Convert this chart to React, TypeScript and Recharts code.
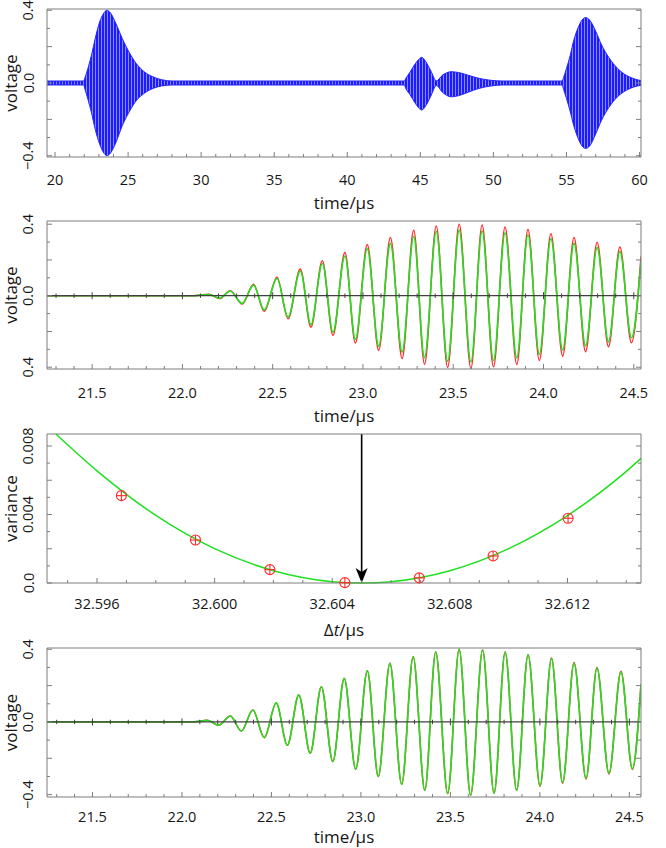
import React from 'react';
import { ComposedChart, Line, Area, Scatter, XAxis, YAxis, ReferenceLine } from 'recharts';

const FONT = '"Open Sans", "Noto Sans", sans-serif';
const FRAME = '#7d7d7d';
const AXIS0 = '#404040';
const INK = '#161616';
const BLUE = '#2323ff';
const RED = '#ff2b2b';
const GREEN = '#1fe01f';

const W = 666;
const H = 212;

// panel 1 - whole record, envelope of the densely sampled burst train
const recTime = [19.45, 21.95, 22.05, 22.25, 22.5, 22.75, 23.05, 23.3, 23.55, 23.8, 24.15, 24.6, 25.1, 25.55, 26.1, 26.7, 27.3, 28.0,
  43.9, 44.0, 44.3, 44.6, 44.9, 45.1, 45.35, 45.7, 46.1, 46.5, 46.8, 47.1, 47.6, 48.3, 49.0, 49.8, 50.6,
  54.7, 54.8, 55.0, 55.25, 55.5, 55.8, 56.05, 56.3, 56.6, 57.0, 57.4, 57.9, 58.5, 59.1, 59.6, 60.1];
const recHigh = [0.011, 0.011, 0.03, 0.08, 0.155, 0.245, 0.335, 0.38, 0.4, 0.385, 0.33, 0.245, 0.165, 0.108, 0.062, 0.034, 0.018, 0.011,
  0.011, 0.025, 0.06, 0.1, 0.13, 0.141, 0.12, 0.07, 0.012, 0.042, 0.056, 0.062, 0.058, 0.042, 0.026, 0.015, 0.011,
  0.011, 0.03, 0.08, 0.15, 0.235, 0.305, 0.345, 0.36, 0.345, 0.285, 0.21, 0.14, 0.08, 0.042, 0.024, 0.013];
const recLow = [-0.011, -0.011, -0.035, -0.09, -0.165, -0.255, -0.335, -0.38, -0.4, -0.385, -0.33, -0.235, -0.155, -0.098, -0.057, -0.03, -0.016, -0.011,
  -0.011, -0.03, -0.065, -0.105, -0.138, -0.149, -0.128, -0.075, -0.014, -0.05, -0.068, -0.076, -0.07, -0.05, -0.03, -0.017, -0.011,
  -0.011, -0.035, -0.085, -0.155, -0.235, -0.305, -0.345, -0.36, -0.345, -0.28, -0.205, -0.135, -0.075, -0.04, -0.022, -0.013];

// panel 2 - first echo, measured (red) and model (green), one point per extremum
const echoTime = [21.25, 21.8, 22.06, 22.147, 22.206, 22.265, 22.331, 22.394, 22.453, 22.524, 22.585, 22.653, 22.712, 22.775, 22.834,
  22.9, 22.958, 23.024, 23.087, 23.152, 23.217, 23.281, 23.341, 23.406, 23.469, 23.533, 23.598, 23.66, 23.723, 23.787, 23.852,
  23.914, 23.977, 24.041, 24.106, 24.169, 24.233, 24.297, 24.36, 24.423, 24.487, 24.54];
const echoRed = [0, 0, 0, 0.008, -0.016, 0.028, -0.047, 0.064, -0.087, 0.104, -0.129, 0.15, -0.176, 0.196, -0.222,
  0.242, -0.265, 0.286, -0.306, 0.325, -0.351, 0.366, -0.383, 0.39, -0.401, 0.4, -0.407, 0.396, -0.398, 0.385, -0.385,
  0.37, -0.362, 0.347, -0.338, 0.325, -0.314, 0.299, -0.286, 0.273, -0.263, 0.22];
const echoGreen = [0, 0, 0, 0.007, -0.014, 0.026, -0.043, 0.059, -0.08, 0.096, -0.119, 0.138, -0.162, 0.18, -0.204,
  0.222, -0.244, 0.263, -0.282, 0.293, -0.314, 0.331, -0.347, 0.359, -0.366, 0.366, -0.37, 0.362, -0.362, 0.351, -0.347,
  0.34, -0.328, 0.318, -0.304, 0.293, -0.28, 0.269, -0.258, 0.247, -0.235, 0.19];

// panel 3 - variance against trial time shift
const shiftTime = [32.59683, 32.59935, 32.60188, 32.60443, 32.60696, 32.60947, 32.61202];
const shiftVar = [0.0051, 0.00251, 0.00078, 0.00002, 0.0003, 0.00158, 0.00378];
const fitTime = [32.5946, 32.596, 32.598, 32.6, 32.602, 32.604, 32.605, 32.606, 32.608, 32.61, 32.612, 32.614, 32.6145];
const fitVar = [0.0087, 0.00655, 0.00395, 0.00201, 0.00072, 0.00008, 0, 0.00008, 0.00072, 0.00201, 0.00394, 0.00652, 0.00728];
const bestShift = 32.605;
const arrowTop = 0.0087;

// panel 4 - corrected echo, one point per extremum
const corrTime = [21.246, 21.8, 22.06, 22.142, 22.206, 22.27, 22.332, 22.396, 22.46, 22.527, 22.589, 22.653, 22.717, 22.779, 22.843,
  22.907, 22.971, 23.036, 23.097, 23.162, 23.228, 23.292, 23.357, 23.418, 23.485, 23.549, 23.613, 23.68, 23.744, 23.806, 23.87,
  23.934, 24.001, 24.065, 24.127, 24.191, 24.258, 24.319, 24.386, 24.453, 24.517, 24.565];
const corrGreen = [0, 0, 0, 0.009, -0.018, 0.033, -0.05, 0.066, -0.086, 0.105, -0.128, 0.149, -0.172, 0.194, -0.218,
  0.24, -0.26, 0.282, -0.301, 0.323, -0.343, 0.359, -0.376, 0.385, -0.394, 0.4, -0.403, 0.396, -0.392, 0.385, -0.376,
  0.37, -0.352, 0.348, -0.334, 0.323, -0.31, 0.297, -0.282, 0.275, -0.257, 0.207];
const corrRed = [0, 0, 0, 0.009, -0.018, 0.033, -0.05, 0.066, -0.086, 0.105, -0.128, 0.149, -0.172, 0.194, -0.218,
  0.24, -0.26, 0.282, -0.301, 0.323, -0.343, 0.359, -0.376, 0.385, -0.394, 0.4, -0.403, 0.396, -0.392, 0.385, -0.376,
  0.37, -0.354, 0.352, -0.337, 0.327, -0.314, 0.3, -0.286, 0.279, -0.261, 0.207];

// ticks and labels
const steps = (from: number, to: number, step: number) => {
  const n = Math.round((to - from) / step);
  const out: number[] = [];
  for (let i = 0; i <= n; i++) out.push(+(from + i * step).toFixed(6));
  return out;
};

const p1XLabelVals = [20, 25, 30, 35, 40, 45, 50, 55, 60];
const p1XLabels = ['20', '25', '30', '35', '40', '45', '50', '55', '60'];
const vYLabelVals = [-0.4, 0, 0.4];
const p1YLabels = ['\u22120.4', '0.0', '0.4'];
const p2YLabels = ['0.4', '0.0', '0.4'];
const echoXLabelVals = [21.5, 22, 22.5, 23, 23.5, 24, 24.5];
const echoXLabels = ['21.5', '22.0', '22.5', '23.0', '23.5', '24.0', '24.5'];
const p3XLabelVals = [32.596, 32.6, 32.604, 32.608, 32.612];
const p3XLabels = ['32.596', '32.600', '32.604', '32.608', '32.612'];
const p3YLabelVals = [0, 0.004, 0.008];
const p3YLabels = ['0.0', '0.004', '0.008'];

const near = (a: number, b: number) => Math.abs(a - b) < 1e-7;

type Spec = {
  xDomain: [number, number];
  yDomain: [number, number];
  xTicks: number[]; xMajors: number[]; xLabelVals: number[]; xLabels: string[]; xLabelDy: number;
  yTicks: number[]; yMajors: number[]; yLabelVals: number[]; yLabels: string[];
  xTitle: React.ReactNode; xTitleDy: number; yTitle: string; clip: boolean;
};

const textStyle = { fontFamily: FONT, fontSize: 14.5 };
const titleStyle = { fontFamily: FONT, fontSize: 17 };

const bottomTick = (s: Spec) => (p: any) => {
  const v = p.payload.value;
  const len = s.xMajors.some((m) => near(m, v)) ? 5 : 3;
  const i = s.xLabelVals.findIndex((m) => near(m, v));
  return (
    <g>
      <line x1={p.x} x2={p.x} y1={p.y} y2={p.y - len} stroke={FRAME} />
      {i >= 0 && (
        <text x={p.x} y={p.y + s.xLabelDy} textAnchor="middle" dominantBaseline="central" style={textStyle} fill={INK}>
          {s.xLabels[i]}
        </text>
      )}
    </g>
  );
};

const topTick = (s: Spec) => (p: any) => {
  const len = s.xMajors.some((m) => near(m, p.payload.value)) ? 5 : 3;
  return <line x1={p.x} x2={p.x} y1={p.y} y2={p.y + len} stroke={FRAME} />;
};

const leftTick = (s: Spec) => (p: any) => {
  const v = p.payload.value;
  const len = s.yMajors.some((m) => near(m, v)) ? 5 : 3;
  const i = s.yLabelVals.findIndex((m) => near(m, v));
  const lx = p.x - 19;
  return (
    <g>
      <line x1={p.x} x2={p.x + len} y1={p.y} y2={p.y} stroke={FRAME} />
      {i >= 0 && (
        <text x={lx} y={p.y} transform={`rotate(-90 ${lx} ${p.y})`} textAnchor="middle" dominantBaseline="central" style={textStyle} fill={INK}>
          {s.yLabels[i]}
        </text>
      )}
    </g>
  );
};

const rightTick = (s: Spec) => (p: any) => {
  const len = s.yMajors.some((m) => near(m, p.payload.value)) ? 5 : 3;
  return <line x1={p.x} x2={p.x - len} y1={p.y} y2={p.y} stroke={FRAME} />;
};

const xTitle = (s: Spec) => (props: any) => {
  const vb = props.viewBox || props;
  return (
    <text x={vb.x + vb.width / 2} y={vb.y + s.xTitleDy} textAnchor="middle" dominantBaseline="central" style={titleStyle} fill={INK}>
      {s.xTitle}
    </text>
  );
};

const yTitle = (s: Spec) => (props: any) => {
  const vb = props.viewBox || props;
  const cy = vb.y + vb.height / 2;
  return (
    <text x={10.5} y={cy} transform={`rotate(-90 10.5 ${cy})`} textAnchor="middle" dominantBaseline="central" style={titleStyle} fill={INK}>
      {s.yTitle}
    </text>
  );
};

// axes are 1px thick (a zero-size axis is not drawn); ticks sit on the plot edges
function frameAxes(s: Spec) {
  const common = { type: 'number' as const, interval: 0 as const, tickSize: 0, tickMargin: 0, tickLine: false, axisLine: { stroke: FRAME } };
  return [
    <XAxis key="xb" xAxisId="b" dataKey="t" {...common} domain={s.xDomain} allowDataOverflow={s.clip} ticks={s.xTicks} height={1} tick={bottomTick(s)} label={{ content: xTitle(s) }} />,
    <XAxis key="xt" xAxisId="t" orientation="top" {...common} domain={s.xDomain} allowDataOverflow ticks={s.xTicks} height={1} tick={topTick(s)} />,
    <YAxis key="yl" yAxisId="l" {...common} domain={s.yDomain} allowDataOverflow={s.clip} ticks={s.yTicks} width={1} tick={leftTick(s)} label={{ content: yTitle(s) }} />,
    <YAxis key="yr" yAxisId="r" orientation="right" {...common} domain={s.yDomain} allowDataOverflow ticks={s.yTicks} width={1} tick={rightTick(s)} />,
  ];
}

const timeTitle = 'time/\u00b5s';

const voltageY = {
  yTicks: steps(-0.4, 0.4, 0.1),
  yMajors: [-0.4, -0.2, 0, 0.2, 0.4],
  yLabelVals: vYLabelVals,
  yTitle: 'voltage',
};

const spec1: Spec = {
  xDomain: [19.45, 60.1], yDomain: [-0.407, 0.407],
  xTicks: steps(20, 60, 1), xMajors: p1XLabelVals, xLabelVals: p1XLabelVals, xLabels: p1XLabels, xLabelDy: 22,
  ...voltageY, yLabels: p1YLabels,
  xTitle: timeTitle, xTitleDy: 45, clip: true,
};

const spec2: Spec = {
  xDomain: [21.25, 24.54], yDomain: [-0.41, 0.418],
  xTicks: steps(21.3, 24.5, 0.1), xMajors: echoXLabelVals, xLabelVals: echoXLabelVals, xLabels: echoXLabels, xLabelDy: 23,
  ...voltageY, yLabels: p2YLabels,
  xTitle: timeTitle, xTitleDy: 46, clip: true,
};

const spec3: Spec = {
  xDomain: [32.5943, 32.6145], yDomain: [0, 0.0087],
  xTicks: steps(32.595, 32.614, 0.001), xMajors: p3XLabelVals, xLabelVals: p3XLabelVals, xLabels: p3XLabels, xLabelDy: 20,
  yTicks: steps(0, 0.008, 0.001), yMajors: [0, 0.002, 0.004, 0.006, 0.008], yLabelVals: p3YLabelVals, yLabels: p3YLabels,
  xTitle: (<><tspan>{'\u0394'}</tspan><tspan fontStyle="italic">t</tspan><tspan>{'/\u00b5s'}</tspan></>),
  xTitleDy: 46, yTitle: 'variance', clip: false,
};

const spec4: Spec = {
  xDomain: [21.246, 24.565], yDomain: [-0.413, 0.407],
  xTicks: steps(21.3, 24.5, 0.1), xMajors: echoXLabelVals, xLabelVals: echoXLabelVals, xLabels: echoXLabels, xLabelDy: 19,
  ...voltageY, yLabels: p1YLabels,
  xTitle: timeTitle, xTitleDy: 39.5, clip: true,
};

const recRows = recTime.map((t, i) => ({ t, band: [recLow[i], recHigh[i]] }));
const echoRows = echoTime.map((t, i) => ({ t, red: echoRed[i], green: echoGreen[i] }));
const shiftRows = shiftTime.map((t, i) => ({ t, v: shiftVar[i] }));
const fitRows = fitTime.map((t, i) => ({ t, v: fitVar[i] }));
const arrowRows = [{ t: bestShift, v: arrowTop }, { t: bestShift, v: 0.0006 }];
const arrowHead = [{ t: bestShift, v: 0 }];
const corrRows = corrTime.map((t, i) => ({ t, red: corrRed[i], green: corrGreen[i] }));
const zeroTicks = steps(21.3, 24.5, 0.1).map((t) => ({ t, v: 0, major: echoXLabelVals.some((m) => near(m, t)) }));

const ZeroTick = (p: any) => {
  const L = p.payload && p.payload.major ? 3.5 : 2.2;
  return <line x1={p.cx} x2={p.cx} y1={p.cy - L} y2={p.cy + L} stroke={AXIS0} strokeWidth={1} />;
};

const CrossCircle = (p: any) => (
  <g stroke={RED} strokeWidth={1.1} fill="none">
    <circle cx={p.cx} cy={p.cy} r={5} />
    <line x1={p.cx - 5} x2={p.cx + 5} y1={p.cy} y2={p.cy} />
    <line x1={p.cx} x2={p.cx} y1={p.cy - 5} y2={p.cy + 5} />
  </g>
);

const ArrowTip = (p: any) => (
  <path d={`M${p.cx},${p.cy} L${p.cx - 6},${p.cy - 15} L${p.cx},${p.cy - 11} L${p.cx + 6},${p.cy - 15} Z`} fill="#000" />
);

const ax = { xAxisId: 'b', yAxisId: 'l' };

function RecordPanel() {
  return (
    <ComposedChart width={W} height={H} margin={{ top: 8, right: 24, bottom: 54, left: 46 }}>
      <defs>
        <pattern id="recHatch" width="3" height="4" patternUnits="userSpaceOnUse">
          <rect width="3" height="4" fill="#8a8aff" />
          <rect width="2" height="4" fill="#1c1cff" />
        </pattern>
      </defs>
      {frameAxes(spec1)}
      <Area {...ax} data={recRows} dataKey="band" type="monotone" stroke={BLUE} strokeWidth={1} fill="url(#recHatch)" fillOpacity={1} isAnimationActive={false} dot={false} activeDot={false} />
    </ComposedChart>
  );
}

function EchoPanel() {
  return (
    <ComposedChart width={W} height={H} margin={{ top: 8, right: 24, bottom: 54, left: 46 }}>
      {frameAxes(spec2)}
      <Line {...ax} data={echoRows} dataKey="red" type="monotone" stroke={RED} strokeWidth={1.5} dot={false} activeDot={false} isAnimationActive={false} />
      <Line {...ax} data={echoRows} dataKey="green" type="monotone" stroke={GREEN} strokeWidth={1.6} dot={false} activeDot={false} isAnimationActive={false} />
      <ReferenceLine {...ax} y={0} stroke={AXIS0} strokeWidth={1.3} />
      <Scatter {...ax} data={zeroTicks} dataKey="v" shape={ZeroTick} isAnimationActive={false} />
    </ComposedChart>
  );
}

function VariancePanel() {
  return (
    <ComposedChart width={W} height={H} margin={{ top: 9, right: 24, bottom: 52, left: 46 }}>
      {frameAxes(spec3)}
      <Line {...ax} data={fitRows} dataKey="v" type="monotone" stroke={GREEN} strokeWidth={1.5} dot={false} activeDot={false} isAnimationActive={false} />
      <Scatter {...ax} data={shiftRows} dataKey="v" shape={CrossCircle} isAnimationActive={false} />
      <Line {...ax} data={arrowRows} dataKey="v" type="linear" stroke="#000" strokeWidth={1.6} dot={false} activeDot={false} isAnimationActive={false} />
      <Scatter {...ax} data={arrowHead} dataKey="v" shape={ArrowTip} isAnimationActive={false} />
    </ComposedChart>
  );
}

function CorrectedPanel() {
  return (
    <ComposedChart width={W} height={H} margin={{ top: 11, right: 24, bottom: 50, left: 46 }}>
      {frameAxes(spec4)}
      <Line {...ax} data={corrRows} dataKey="red" type="monotone" stroke={RED} strokeWidth={1.5} dot={false} activeDot={false} isAnimationActive={false} />
      <Line {...ax} data={corrRows} dataKey="green" type="monotone" stroke={GREEN} strokeWidth={1.6} dot={false} activeDot={false} isAnimationActive={false} />
      <ReferenceLine {...ax} y={0} stroke={AXIS0} strokeWidth={1.3} />
      <Scatter {...ax} data={zeroTicks} dataKey="v" shape={ZeroTick} isAnimationActive={false} />
    </ComposedChart>
  );
}

export default function App() {
  const panels = [RecordPanel, EchoPanel, VariancePanel, CorrectedPanel];
  return (
    <div style={{ position: 'relative', width: W, height: 4 * H, background: '#fff' }}>
      <style>{'body{margin:0} .recharts-surface{overflow:visible}'}</style>
      {panels.map((P, i) => (
        <div key={i} style={{ position: 'absolute', left: 0, top: i * H, width: W, height: H }}>
          <P />
        </div>
      ))}
    </div>
  );
}
